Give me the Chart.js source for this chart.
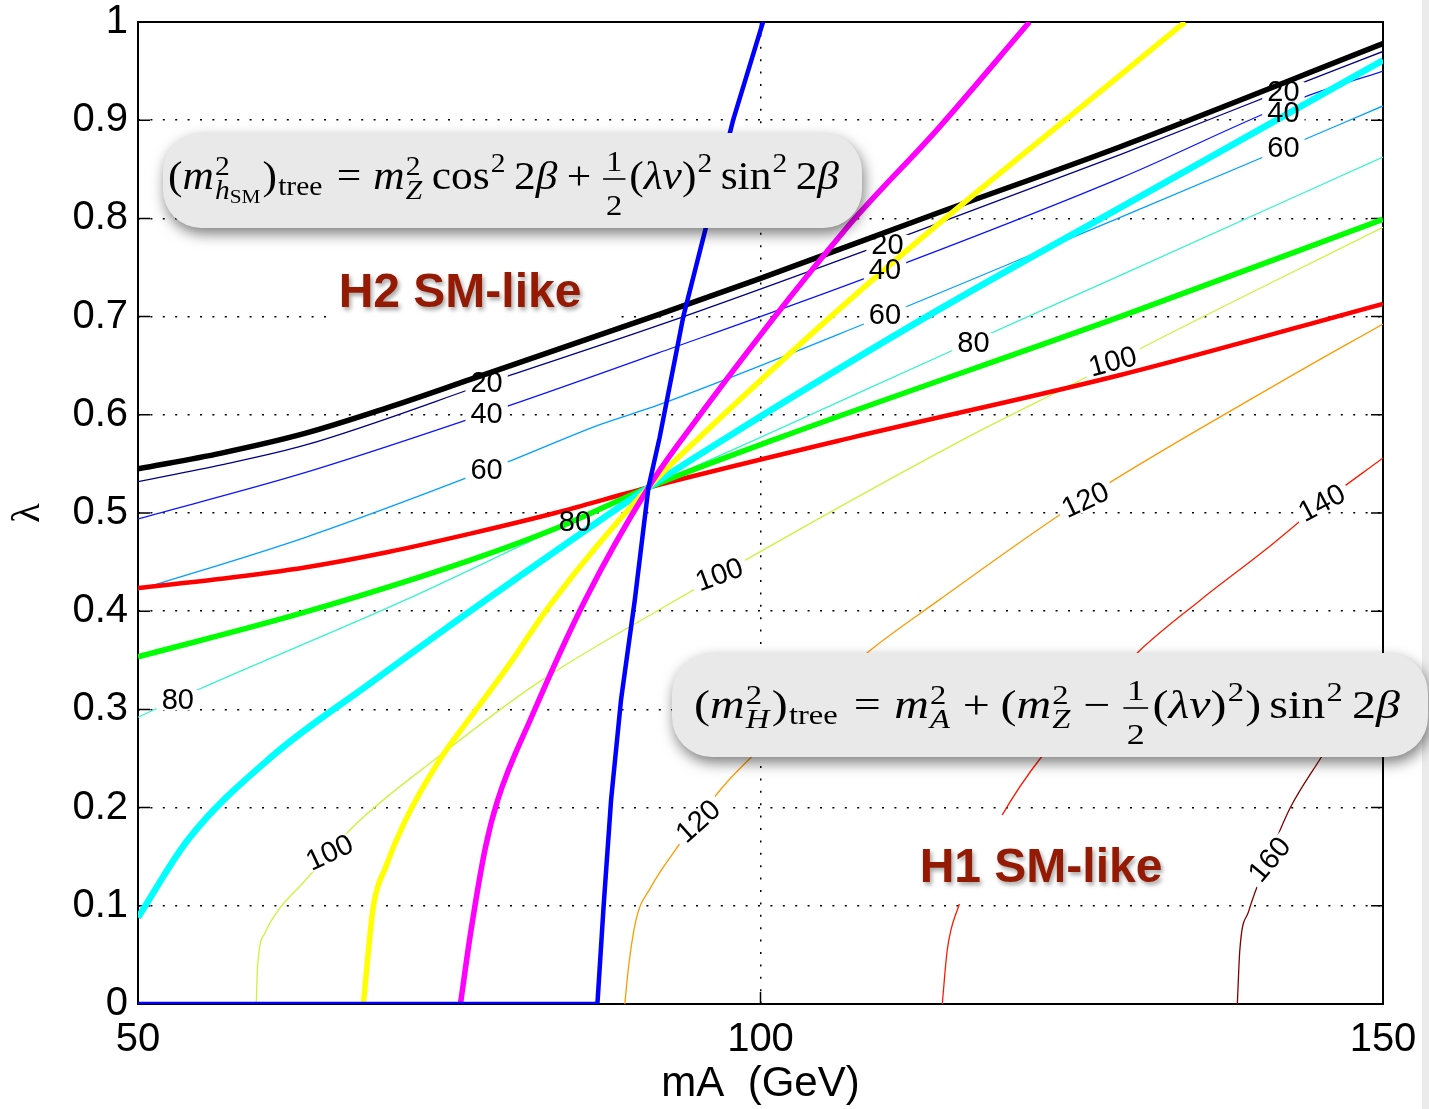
<!DOCTYPE html>
<html>
<head>
<meta charset="utf-8">
<script src="https://cdn.jsdelivr.net/npm/chart.js@4.4.1/dist/chart.umd.min.js"></script>
<style>
  html, body { margin: 0; padding: 0; background: #fff; }
  #wrap { width: 1429px; height: 1109px; }
</style>
</head>
<body>
<div id="wrap"><canvas id="myChart" width="1429" height="1109"></canvas></div>
<script>
// thick curves, [mA, lambda], all meeting near (mZ, mZ/v)
var lineBlack   = [[50,0.545],[56.7,0.561],[63.4,0.581],[70,0.607],[76.7,0.636],[91.8,0.702],[100,0.739],[113.9,0.804],[128.9,0.873],[150,0.978]];
var lineBlue    = [[50,0],[86.9,0],[87.4,0.1],[88.0,0.208],[88.8,0.31],[89.9,0.411],[91.0,0.526],[91.9,0.577],[93.8,0.70],[97.8,0.90],[100.2,1.0]];
var lineMagenta = [[75.9,0],[76.7,0.071],[77.9,0.159],[78.9,0.208],[81.6,0.292],[85.9,0.411],[91.0,0.526],[93.8,0.577],[106.9,0.790],[114.3,0.892],[121.6,1.0]];
var lineYellow  = [[68.1,0],[68.9,0.099],[69.9,0.1395],[71.4,0.185],[74.1,0.246],[76.7,0.292],[79.5,0.340],[83.2,0.408],[91.0,0.526],[95.1,0.577],[109.6,0.744],[128.9,0.946],[134.1,1.0]];
var lineCyan    = [[50,0.088],[54,0.167],[60.7,0.2515],[68.7,0.327],[77.9,0.411],[91.0,0.526],[97.3,0.577],[113.9,0.704],[128.9,0.811],[150,0.961]];
var lineGreen   = [[50,0.3535],[63.4,0.399],[76.7,0.452],[83.7,0.485],[91.0,0.526],[101.6,0.577],[128.9,0.700],[150,0.799]];
var lineRed     = [[50,0.4236],[56.7,0.433],[63.4,0.4445],[70,0.46],[76.7,0.479],[83.5,0.500],[91.0,0.526],[107.4,0.577],[128.9,0.6405],[150,0.713]];

// thin contours of the tree-level masses (GeV)
var levels = [20, 40, 60, 80, 100, 120, 140, 160];
var contour20  = [[50,0.532],[56.7,0.549],[63.4,0.569],[79.5,0.6385],[91.8,0.691],[108.6,0.768],[128.9,0.865],[143.5,0.938],[150,0.970]];
var contour40  = [[50,0.494],[63.4,0.541],[79.5,0.608],[91.8,0.663],[108.6,0.740],[128.9,0.841],[143.5,0.9226],[150,0.950]];
var contour60  = [[50,0.4216],[63.4,0.475],[79.5,0.551],[87.1,0.590],[91.8,0.610],[108.6,0.694],[128.9,0.801],[140.4,0.8625],[150,0.9145]];
var contour80  = [[50,0.292],[54.8,0.320],[71.4,0.411],[83.5,0.483],[91.0,0.526],[100,0.577],[115.5,0.666],[128.9,0.742],[150,0.8625]];
var contour100 = [[59.5,0],[59.6,0.0377],[60.2,0.0723],[61.3,0.096],[63.3,0.124],[67.4,0.182],[74.1,0.2515],[82.1,0.327],[91.8,0.401],[116.6,0.577],[126.2,0.6385],[130.6,0.668],[150,0.791]];
var contour120 = [[89.1,0],[89.4,0.0377],[90.0,0.0855],[91.2,0.119],[93.0,0.154],[96.9,0.22],[99.2,0.2505],[108.6,0.358],[114.3,0.411],[125.8,0.513],[142,0.635],[150,0.6925]];
var contour140 = [[114.6,0],[115.0,0.055],[115.9,0.099],[117.5,0.145],[119.3,0.19],[122.5,0.2505],[126.5,0.305],[130.3,0.358],[135.3,0.411],[140.5,0.462],[145.1,0.51],[150,0.556]];
var contour160 = [[138.3,0],[138.5,0.055],[139.2,0.094],[140.8,0.148],[142.5,0.1985],[145,0.2505],[150,0.352]];

// inline contour labels: level, mA, lambda, angle (deg)
var contourLabels = [
  [20,78.0,0.632,0],[20,110.2,0.773,0],[20,142.0,0.929,0],
  [40,78.0,0.601,0],[40,110.0,0.7475,0],[40,142.0,0.907,0],
  [60,78.0,0.544,0],[60,110.0,0.7016,0],[60,142.0,0.8717,0],
  [80,53.2,0.3096,0],[80,85.1,0.4908,0],[80,117.1,0.673,0],
  [100,65.4,0.154,-25],[100,96.7,0.437,-20],[100,128.3,0.654,-15],
  [120,95.0,0.186,-42],[120,126.1,0.513,-25],
  [140,145.1,0.510,-28],
  [160,140.9,0.147,-50]
];

var xTicks = [50, 100, 150];
var yTicks = [0, 0.1, 0.2, 0.3, 0.4, 0.5, 0.6, 0.7, 0.8, 0.9, 1];

function pts(a) { return a.map(function (p) { return {x: p[0], y: p[1]}; }); }

var thick = [
  [lineBlue, '#0000ff', 4.5, 0],
  [lineMagenta, '#ff00ff', 5.5, 0.3],
  [lineYellow, '#ffff00', 5.5, 0.3],
  [lineCyan, '#00ffff', 6.5, 0.3],
  [lineGreen, '#00ff00', 5.5, 0.3],
  [lineRed, '#ff0000', 4.5, 0.3],
  [lineBlack, '#000000', 5.5, 0.3]
];
var thin = [
  [contour20, '#000080'], [contour40, '#0a14ff'], [contour60, '#00a0ff'], [contour80, '#36f5c9'],
  [contour100, '#c9f53c'], [contour120, '#ff9a00'], [contour140, '#ff1a00'], [contour160, '#800000']
];

var datasets = [];
thick.forEach(function (d) {
  datasets.push({
    data: pts(d[0]), showLine: true, pointRadius: 0, borderColor: d[1], borderWidth: d[2],
    cubicInterpolationMode: d[3] ? 'monotone' : 'default', tension: d[3], order: 0
  });
});
thin.forEach(function (d, i) {
  datasets.push({
    data: pts(d[0]), showLine: true, pointRadius: 0, borderColor: d[1], borderWidth: 1.3,
    cubicInterpolationMode: 'monotone', tension: 0.3, order: 1, level: levels[i]
  });
});

// small TeX-like typesetter for the two formula boxes
function mathRun(ctx, items, em, draw) {
  var x = 0;
  function font(size, it) { return (it ? 'italic ' : '') + size.toFixed(1) + 'px "Liberation Serif", "Times New Roman", serif'; }
  function measure(s, size, it) { ctx.font = font(size, it); return ctx.measureText(s).width; }
  function put(s, size, it, px, py) { var w = measure(s, size, it); if (draw) ctx.fillText(s, px, py); return w; }
  items.forEach(function (m) {
    if (m.g) { x += m.g * em; return; }
    if (m.frac) {
      var fs = em * 0.75;
      var w1 = measure(m.frac[0], fs), w2 = measure(m.frac[1], fs);
      var w = Math.max(w1, w2) + em * 0.24;
      put(m.frac[0], fs, false, x + (w - w1) / 2, -0.46 * em);
      put(m.frac[1], fs, false, x + (w - w2) / 2, 0.64 * em);
      if (draw) ctx.fillRect(x + em * 0.05, -0.25 * em - 0.8, w - em * 0.1, 1.6);
      x += w + em * 0.04;
      return;
    }
    if (m.t) x += put(m.t, em, m.i, x, 0);
    var sw = 0, ss = em * 0.68;
    if (m.sup) sw = put(m.sup, ss, false, x + 1, (m.sub ? -0.36 : -0.42) * em);
    if (m.sub) {
      var sx = x + 1;
      m.sub.forEach(function (s) { sx += put(s.t, ss * (s.s || 1), s.i, sx, (0.24 + (s.dy || 0)) * em); });
      sw = Math.max(sw, sx - x);
    }
    if (sw) x += sw + 2;
  });
  return x;
}
function drawMath(ctx, items, left, baseline, width, em) {
  ctx.save();
  var nat = mathRun(ctx, items, em, false);
  ctx.translate(left, baseline);
  ctx.scale(width / nat, 1);
  ctx.fillStyle = '#000';
  ctx.textAlign = 'left';
  ctx.textBaseline = 'alphabetic';
  mathRun(ctx, items, em, true);
  ctx.restore();
}

var gap = {g: 0.28}, thinGap = {g: 0.17};
var formulaSM = [
  {t: '('}, {t: 'm', i: 1}, {sup: '2', sub: [{t: 'h', i: 1}, {t: 'SM', s: 0.72, dy: 0.12}]}, {t: ')'}, {sub: [{t: 'tree', dy: -0.1}]},
  gap, {t: '='}, gap,
  {t: 'm', i: 1}, {sup: '2', sub: [{t: 'Z', i: 1}]},
  thinGap, {t: 'cos'}, {sup: '2'}, thinGap, {t: '2'}, {t: 'β', i: 1},
  {g: 0.22}, {t: '+'}, {g: 0.22},
  {frac: ['1', '2']},
  {t: '('}, {t: 'λ', i: 1}, {t: 'v', i: 1}, {t: ')'}, {sup: '2'},
  thinGap, {t: 'sin'}, {sup: '2'}, thinGap, {t: '2'}, {t: 'β', i: 1}
];
var formulaH = [
  {t: '('}, {t: 'm', i: 1}, {sup: '2', sub: [{t: 'H', i: 1}]}, {t: ')'}, {sub: [{t: 'tree', dy: -0.1}]},
  gap, {t: '='}, gap,
  {t: 'm', i: 1}, {sup: '2', sub: [{t: 'A', i: 1}]},
  {g: 0.22}, {t: '+'}, {g: 0.22},
  {t: '('}, {t: 'm', i: 1}, {sup: '2', sub: [{t: 'Z', i: 1}]},
  {g: 0.22}, {t: '−'}, {g: 0.22},
  {frac: ['1', '2']}, {t: '('}, {t: 'λ', i: 1}, {t: 'v', i: 1}, {t: ')'}, {sup: '2'}, {t: ')'},
  thinGap, {t: 'sin'}, {sup: '2'}, thinGap, {t: '2'}, {t: 'β', i: 1}
];

function roundBox(ctx, x, y, w, h, r) {
  ctx.save();
  ctx.shadowColor = 'rgba(0,0,0,0.5)';
  ctx.shadowBlur = 14;
  ctx.shadowOffsetX = 2;
  ctx.shadowOffsetY = 6;
  ctx.fillStyle = '#e9e9e9';
  ctx.beginPath();
  ctx.roundRect(x, y, w, h, r);
  ctx.fill();
  ctx.restore();
}

function labelFrame(chart, l, fn) {
  var ctx = chart.ctx;
  ctx.save();
  ctx.translate(chart.scales.x.getPixelForValue(l[1]), chart.scales.y.getPixelForValue(l[2]));
  ctx.rotate(l[3] * Math.PI / 180);
  ctx.font = '29px "Liberation Sans", Arial, sans-serif';
  fn(ctx, String(l[0]));
  ctx.restore();
}

var decor = {
  id: 'decor',
  beforeDraw: function (chart) {
    var ctx = chart.ctx;
    ctx.save();
    ctx.fillStyle = '#fff';
    ctx.fillRect(0, 0, chart.width, chart.height);
    ctx.fillStyle = '#ebebeb';
    ctx.fillRect(1422, 0, chart.width - 1422, chart.height);
    ctx.restore();
  },
  beforeDatasetsDraw: function (chart) {
    var ctx = chart.ctx, a = chart.chartArea, x = chart.scales.x, y = chart.scales.y;
    ctx.save();
    ctx.strokeStyle = '#000';
    ctx.lineWidth = 2;
    ctx.strokeRect(a.left, a.top, a.right - a.left, a.bottom - a.top);
    ctx.lineWidth = 1.5;
    ctx.beginPath();
    yTicks.forEach(function (v) {
      var py = y.getPixelForValue(v);
      ctx.moveTo(a.left, py); ctx.lineTo(a.left + 12, py);
      ctx.moveTo(a.right, py); ctx.lineTo(a.right - 12, py);
    });
    xTicks.forEach(function (v) {
      var px = x.getPixelForValue(v);
      ctx.moveTo(px, a.bottom); ctx.lineTo(px, a.bottom - 12);
      ctx.moveTo(px, a.top); ctx.lineTo(px, a.top + 12);
    });
    ctx.stroke();
    ctx.restore();
  },
  // cut a gap in each contour where its label sits
  afterDatasetDraw: function (chart, args) {
    var ds = chart.data.datasets[args.index];
    if (!ds.level) return;
    contourLabels.forEach(function (l) {
      if (l[0] !== ds.level) return;
      labelFrame(chart, l, function (ctx, txt) {
        var w = ctx.measureText(txt).width;
        ctx.fillStyle = '#fff';
        ctx.fillRect(-w / 2 - 5, -10, w + 10, 20);
      });
    });
  },
  afterDatasetsDraw: function (chart) {
    var ctx = chart.ctx;
    contourLabels.forEach(function (l) {
      labelFrame(chart, l, function (c, txt) {
        c.fillStyle = '#000';
        c.textAlign = 'center';
        c.textBaseline = 'middle';
        c.fillText(txt, 0, 1);
      });
    });

    ctx.save();
    ctx.fillStyle = '#fff';
    ctx.fillRect(328, 242, 284, 86);
    ctx.fillRect(915, 815, 255, 89);
    ctx.font = 'bold 48px "Liberation Sans", Arial, sans-serif';
    ctx.textAlign = 'center';
    ctx.textBaseline = 'alphabetic';
    ctx.shadowColor = 'rgba(0,0,0,0.35)';
    ctx.shadowBlur = 4;
    ctx.shadowOffsetX = 2;
    ctx.shadowOffsetY = 3;
    ctx.fillStyle = '#951a04';
    ctx.fillText('H2 SM-like', 460, 307);
    ctx.fillText('H1 SM-like', 1041, 882);
    ctx.restore();

    roundBox(ctx, 163, 133, 699, 95, 38);
    drawMath(ctx, formulaSM, 168, 189, 671, 40);
    roundBox(ctx, 672, 653, 756, 104, 40);
    drawMath(ctx, formulaH, 694, 718, 706, 40);
  }
};

var ctx = document.getElementById('myChart').getContext('2d');
var myChart = new Chart(ctx, {
  type: 'scatter',
  data: {datasets: datasets},
  options: {
    responsive: false,
    animation: false,
    devicePixelRatio: 1,
    layout: {padding: {top: 22, right: 46, bottom: 0, left: 0}},
    plugins: {legend: {display: false}, tooltip: {enabled: false}},
    scales: {
      x: {
        type: 'linear', min: 50, max: 150,
        afterBuildTicks: function (s) { s.ticks = xTicks.map(function (v) { return {value: v}; }); },
        afterFit: function (s) { s.height = 105; },
        ticks: {font: {family: '"Liberation Sans", Arial, sans-serif', size: 40, lineHeight: 1.8},
                color: '#000', padding: 0, maxRotation: 0, autoSkip: false,
                callback: function (v) { return String(v); }},
        grid: {drawTicks: false, lineWidth: 1.5, borderDash: [2, 10.4],
               color: function (c) { return c.tick && c.tick.value === 100 ? '#000' : 'rgba(0,0,0,0)'; }},
        border: {display: false, dash: [2, 10.4]},
        title: {display: true, text: 'mA  (GeV)', color: '#000', padding: 0,
                font: {family: '"Liberation Sans", Arial, sans-serif', size: 42, lineHeight: 1.15}}
      },
      y: {
        type: 'linear', min: 0, max: 1,
        afterBuildTicks: function (s) { s.ticks = yTicks.map(function (v) { return {value: v}; }); },
        afterFit: function (s) { s.width = 138; },
        ticks: {font: {family: '"Liberation Sans", Arial, sans-serif', size: 40, lineHeight: 0.5},
                color: '#000', padding: 10, autoSkip: false,
                callback: function (v) { return String(v); }},
        grid: {drawTicks: false, lineWidth: 1.5, borderDash: [2, 10.4],
               color: function (c) { return c.tick && c.tick.value > 0.01 && c.tick.value < 0.99 ? '#000' : 'rgba(0,0,0,0)'; }},
        border: {display: false, dash: [2, 10.4]},
        title: {display: true, text: 'λ', color: '#000', padding: {top: 8, bottom: 0},
                font: {family: '"Liberation Serif", serif', size: 40, lineHeight: 1}}
      }
    }
  },
  plugins: [decor]
});
</script>
</body>
</html>
